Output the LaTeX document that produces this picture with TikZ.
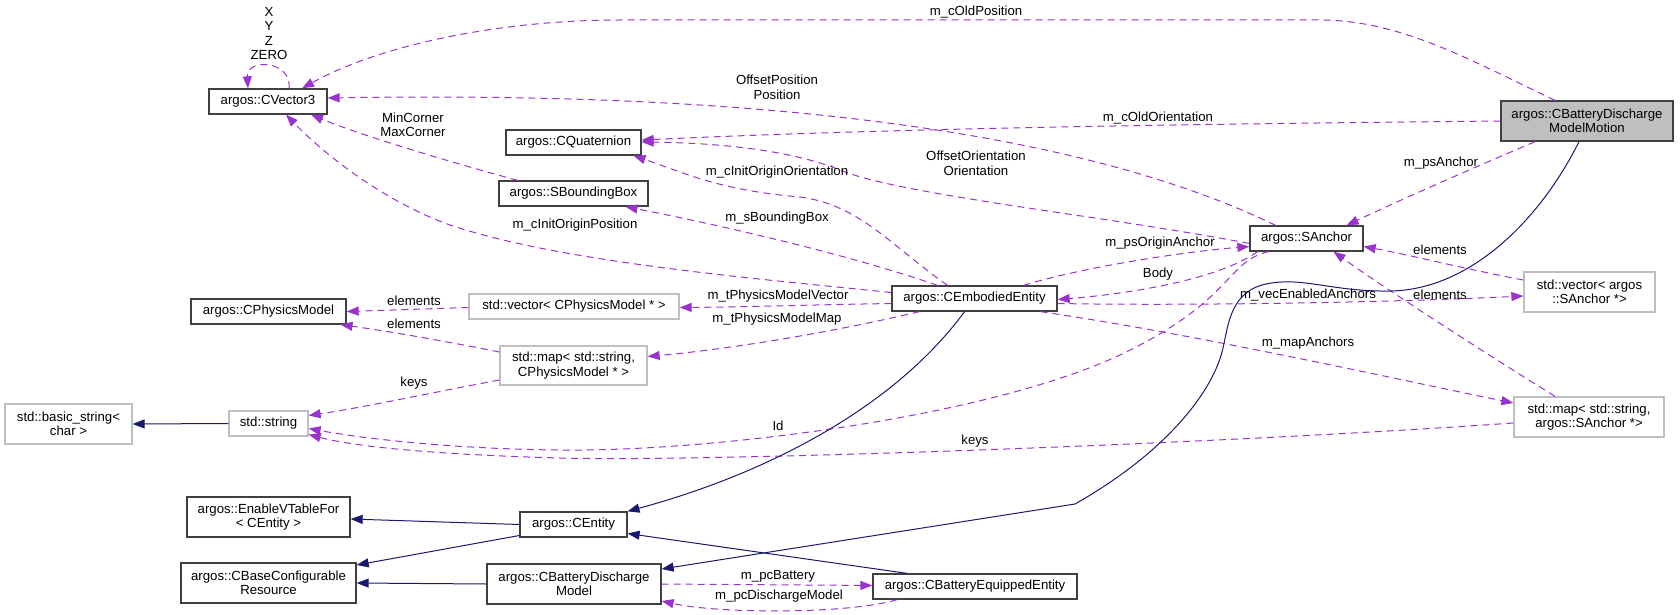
\documentclass[tikz,border=0pt]{standalone}
\usepackage{fontspec}
\setmainfont{Liberation Sans}
\usepackage{xcolor}
\usepackage{tikz}
\usetikzlibrary{arrows.meta}
\definecolor{dxpurple}{RGB}{154,50,205}
\definecolor{dxblue}{RGB}{25,25,112}
\definecolor{dxgray}{RGB}{191,191,191}
\definecolor{dxedge}{RGB}{64,64,64}

\begin{document}
\begin{tikzpicture}[x=1pt, y=-1pt,
        font=\fontsize{13.2}{14.5}\selectfont,
        docbox/.style={draw=dxedge, line width=1.3pt, rectangle, inner sep=0pt, align=center, minimum height=25pt},
        undocbox/.style={docbox, draw=dxgray},
        usage/.style={-{Triangle[length=12pt,width=9pt]}, dxpurple, line width=1pt, dash pattern=on 7pt off 5pt},
        derive/.style={-{Triangle[length=12pt,width=9pt]}, dxblue, line width=1pt},
        lbl/.style={inner sep=0pt, align=center}]
            \useasboundingbox (0,0) rectangle (1680,615);

            \node[docbox, minimum width=118pt] (cvec) at (268,101.5) {argos::CVector3};
            \node[docbox, minimum width=135pt] (cquat) at (573.5,142.5) {argos::CQuaternion};
            \node[docbox, minimum width=149pt] (sbox) at (573.5,193.5) {argos::SBoundingBox};
            \node[docbox, minimum width=155pt] (cphys) at (268.5,311.5) {argos::CPhysicsModel};
            \node[undocbox, minimum width=210pt] (vecphys) at (574,306.5) {std::vector< CPhysicsModel * >};
            \node[undocbox, minimum width=147pt, minimum height=39pt] (mapphys) at (573.5,365.5) {std::map< std::string,\\CPhysicsModel * >};
            \node[undocbox, minimum width=127pt, minimum height=40pt] (basicstr) at (68.5,424) {std::basic\_string<\\char >};
            \node[undocbox, minimum width=79pt] (stdstr) at (268.5,423.5) {std::string};
            \node[docbox, minimum width=163pt, minimum height=40pt] (evtf) at (268.5,517) {argos::EnableVTableFor\\< CEntity >};
            \node[docbox, minimum width=175pt, minimum height=40pt] (cbcr) at (268.5,583) {argos::CBaseConfigurable\\Resource};
            \node[docbox, minimum width=107pt] (centity) at (573.5,524.5) {argos::CEntity};
            \node[docbox, minimum width=174pt, minimum height=40pt] (cbdm) at (574,584) {argos::CBatteryDischarge\\Model};
            \node[docbox, minimum width=165pt] (cee) at (974.5,298.5) {argos::CEmbodiedEntity};
            \node[docbox, minimum width=204pt] (cbee) at (975,586.5) {argos::CBatteryEquippedEntity};
            \node[docbox, minimum width=113pt] (sanchor) at (1306.5,238.5) {argos::SAnchor};
            \node[docbox, fill=dxgray, minimum width=172pt, minimum height=40pt] (motion) at (1587,121) {argos::CBatteryDischarge\\ModelMotion};
            \node[undocbox, minimum width=131pt, minimum height=40pt] (vecanc) at (1589.5,292) {std::vector< argos\\::SAnchor *>};
            \node[undocbox, minimum width=150pt, minimum height=40pt] (mapanc) at (1589,417) {std::map< std::string,\\argos::SAnchor *>};

            \draw[usage] ([xshift=-32pt]motion.north) .. controls (1470,60) and (1400,20) .. (1320,20) -- (620,20) .. controls (500,20) and (380,45) .. ([xshift=34pt]cvec.north);
            \draw[usage] ([xshift=21pt]cvec.north) .. controls (292,60) and (246,58) .. ([xshift=-20pt]cvec.north);
            \draw[usage] ([xshift=-31pt]sanchor.north) .. controls (1100,140) and (800,90) .. ([yshift=3.5pt]cvec.east);
            \draw[usage] (motion.west) .. controls (1200,124) and (900,128) .. ([yshift=2.5pt]cquat.east);
            \draw[usage] ([yshift=-5pt]sanchor.west) .. controls (1100,215) and (900,195) .. (840,170) .. controls (790,150) and (720,143) .. ([yshift=0.5pt]cquat.east);
            \draw[usage] ([xshift=-27pt]cee.north) .. controls (890,245) and (860,205) .. (800,197) .. controls (720,190) and (690,175) .. ([xshift=60pt]cquat.south);
            \draw[usage] ([xshift=-37pt]cee.north) .. controls (850,255) and (720,225) .. ([xshift=52pt]sbox.south);
            \draw[usage] ([yshift=6pt]cee.west) .. controls (750,278) and (560,262) .. (450,225) .. controls (380,200) and (320,150) .. ([xshift=18pt]cvec.south);
            \draw[usage] ([xshift=-56pt]sbox.north) .. controls (450,162) and (360,135) .. ([xshift=43pt]cvec.south);
            \draw[usage] ([xshift=49pt]cee.north) .. controls (1080,268) and (1180,252) .. ([yshift=-8pt]sanchor.west);
            \draw[usage] ([xshift=-49pt]sanchor.south) .. controls (1225,275) and (1150,292) .. ([yshift=-1pt]cee.east);
            \draw[usage] ([yshift=-5pt]cee.east) .. controls (1200,306) and (1400,302) .. ([yshift=-4pt]vecanc.west);
            \draw[usage] ([yshift=12pt]vecanc.west) .. controls (1470,270) and (1410,255) .. ([yshift=-8pt]sanchor.east);
            \draw[usage] ([xshift=-34pt]mapanc.north) .. controls (1480,350) and (1380,285) .. ([xshift=27pt]sanchor.south);
            \draw[usage] ([xshift=-52pt]motion.south) .. controls (1480,165) and (1400,200) .. ([xshift=40pt]sanchor.north);
            \draw[usage] ([xshift=66pt]cee.south) .. controls (1200,335) and (1400,380) .. ([yshift=14pt]mapanc.west);
            \draw[usage] ([yshift=-5pt]cee.west) .. controls (800,305) and (750,307) .. ([yshift=-1pt]vecphys.east);
            \draw[usage] ([xshift=-55pt]cee.south) .. controls (820,335) and (720,350) .. ([yshift=9pt]mapphys.east);
            \draw[usage] ([yshift=-1pt]vecphys.west) -- (cphys.east);
            \draw[usage] ([yshift=13.5pt]mapphys.west) .. controls (440,340) and (380,330) .. ([xshift=72pt]cphys.south);
            \draw[usage] ([yshift=-14.5pt]mapphys.west) .. controls (430,393) and (360,408) .. ([yshift=8pt]stdstr.east);
            \draw[usage] ([xshift=-38pt]sanchor.south) .. controls (1225,262) and (1235,300) .. (1120,355) .. controls (980,420) and (700,452) .. (560,450) .. controls (450,449) and (360,438) .. ([yshift=-5pt]stdstr.east);
            \draw[usage] ([yshift=-6pt]mapanc.west) .. controls (1200,445) and (700,462) .. (560,458) .. controls (450,455) and (360,448) .. ([yshift=-11pt]stdstr.east);
            \draw[usage] (cbdm.east) -- ([yshift=1pt]cbee.west);
            \draw[usage] ([xshift=-78pt]cbee.south) .. controls (850,614) and (720,614) .. ([yshift=-17pt]cbdm.east);

            \draw[derive] (stdstr.west) -- (basicstr.east);
            \draw[derive] (centity.west) -- ([yshift=-2pt]evtf.east);
            \draw[derive] ([yshift=-11pt]centity.west) -- ([yshift=18pt]cbcr.east);
            \draw[derive] (cbdm.west) -- (cbcr.east);
            \draw[derive] ([xshift=-10pt]cee.south) .. controls (900,400) and (780,470) .. ([xshift=54pt]centity.north);
            \draw[derive] ([xshift=-68pt]cbee.north) -- ([yshift=-9pt]centity.east);
            \draw[derive] ([xshift=-8pt]motion.south) .. controls (1540,220) and (1470,290) .. (1390,291) .. controls (1330,292) and (1300,275) .. (1262,285) .. controls (1228,295) and (1228,330) .. (1222,352) .. controls (1212,390) and (1170,450) .. (1075,504) -- ([yshift=15pt]cbdm.east);

            \node[lbl] (lOldPos) at (976,12) {m\_cOldPosition};
            \node[lbl] (lXYZ) at (269,33.5) {X\\Y\\Z\\ZERO};
            \node[lbl] (lOffPos) at (777,87.5) {OffsetPosition\\Position};
            \node[lbl] (lOldOri) at (1158,118) {m\_cOldOrientation};
            \node[lbl] (lOffOri) at (976,163.5) {OffsetOrientation\\Orientation};
            \node[lbl] (lInitOri) at (777,172) {m\_cInitOriginOrientation};
            \node[lbl] (lBBox) at (777,218) {m\_sBoundingBox};
            \node[lbl] (lInitPos) at (575,225) {m\_cInitOriginPosition};
            \node[lbl] (lCorner) at (413,125) {MinCorner\\MaxCorner};
            \node[lbl] (lOriginAnc) at (1160,243) {m\_psOriginAnchor};
            \node[lbl] (lBody) at (1158,274) {Body};
            \node[lbl] (lVecEn) at (1308,295) {m\_vecEnabledAnchors};
            \node[lbl] (lElemV) at (1440,250) {elements};
            \node[lbl] (lElemM) at (1440,295) {elements};
            \node[lbl] (lPsAnc) at (1441,163) {m\_psAnchor};
            \node[lbl] (lMapAnc) at (1308,343) {m\_mapAnchors};
            \node[lbl] (lPhysVec) at (778,296) {m\_tPhysicsModelVector};
            \node[lbl] (lPhysMap) at (777,319) {m\_tPhysicsModelMap};
            \node[lbl] (lElemPV) at (414,301) {elements};
            \node[lbl] (lElemPM) at (414,324) {elements};
            \node[lbl] (lKeysP) at (414,383) {keys};
            \node[lbl] (lId) at (778,426) {Id};
            \node[lbl] (lKeysA) at (975,441) {keys};
            \node[lbl] (lBattery) at (778,576) {m\_pcBattery};
            \node[lbl] (lDisch) at (779,596) {m\_pcDischargeModel};
        \end{tikzpicture}
\end{document}
